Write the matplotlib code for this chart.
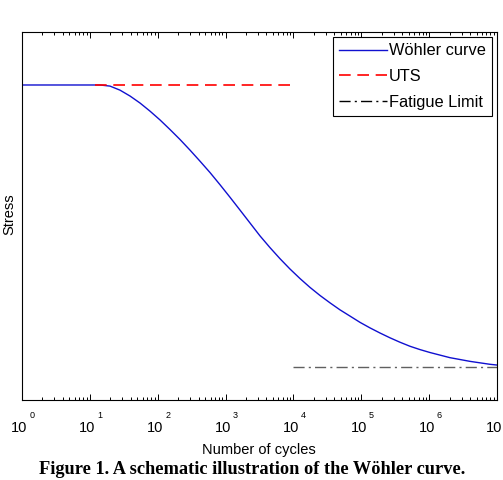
import matplotlib
matplotlib.use("Agg")
import matplotlib.pyplot as plt
import matplotlib.transforms as mtransforms
from matplotlib.ticker import LogLocator, NullFormatter, FixedLocator
import numpy as np

# ---- data ----
# log10 of number of cycles, and normalised stress of the Wöhler curve
log10_cycles = [0.000, 1.149, 1.297, 1.444, 1.592, 1.739, 1.886, 2.034, 2.181,
                2.328, 2.476, 2.623, 2.771, 2.918, 3.065, 3.213, 3.360, 3.507,
                3.655, 3.802, 3.949, 4.097, 4.244, 4.392, 4.539, 4.686, 4.834,
                4.981, 5.128, 5.276, 5.423, 5.570, 5.718, 5.865, 6.013, 6.160,
                6.307, 6.455, 6.602, 6.749, 6.897, 7.000]
stress = [0.856, 0.856, 0.853, 0.842, 0.826, 0.807, 0.785, 0.761, 0.735, 0.708,
          0.679, 0.649, 0.618, 0.585, 0.551, 0.516, 0.481, 0.446, 0.414, 0.384,
          0.356, 0.330, 0.306, 0.284, 0.264, 0.245, 0.228, 0.211, 0.196, 0.182,
          0.169, 0.157, 0.146, 0.137, 0.129, 0.122, 0.115, 0.110, 0.105, 0.101,
          0.097, 0.095]
uts_cycles = [12, 10000]
uts_value = 0.856
fatigue_cycles = [10000, 10000000]
fatigue_value = 0.0905
tick_exponents = [0, 1, 2, 3, 4, 5, 6, 7]
labels = ["Wöhler curve", "UTS", "Fatigue Limit"]

cycles = 10.0 ** np.array(log10_cycles)

plt.rcParams['font.family'] = ['Liberation Sans', 'DejaVu Sans']

W, H = 503, 480
fig = plt.figure(figsize=(W / 100, H / 100), dpi=100)
ax = fig.add_axes([22 / W, (H - 400) / H, 475 / W, 368 / H])

ax.plot(cycles, stress, color='#1010d0', lw=1.0, label=labels[0])
ax.plot(uts_cycles, [uts_value] * 2, color='#ff0000', lw=1.2,
        dashes=(7, 4), label=labels[1])
ax.plot(fatigue_cycles, [fatigue_value] * 2, color='#606060', lw=1.0,
        dashes=(8, 3, 1.5, 3), label=labels[2])

ax.set_xscale('log')
ax.set_xlim(1, 1e7)
ax.set_ylim(0, 1)
ax.set_yticks([])

ax.xaxis.set_major_locator(FixedLocator([10.0 ** e for e in tick_exponents]))
ax.xaxis.set_minor_locator(LogLocator(base=10, subs=range(2, 10), numticks=20))
ax.xaxis.set_minor_formatter(NullFormatter())
ax.tick_params(axis='x', which='both', direction='in', top=True, bottom=True,
               color='black', width=0.7)
ax.tick_params(axis='x', which='major', length=4, labelbottom=False)
ax.tick_params(axis='x', which='minor', length=2)

for s in ax.spines.values():
    s.set_linewidth(0.8)
    s.set_color('black')

# tick labels in "10 with raised exponent" style
trans = mtransforms.blended_transform_factory(ax.transData, ax.transAxes)
for e in tick_exponents:
    x = 10.0 ** e
    t1 = mtransforms.offset_copy(trans, fig=fig, x=-2.5, y=-28, units='dots')
    ax.text(x, 0, "10", transform=t1, ha='center', va='center',
            fontsize=10.5, clip_on=False)
    if e < tick_exponents[-1]:  # last exponent falls outside the figure
        t2 = mtransforms.offset_copy(trans, fig=fig, x=10, y=-16, units='dots')
        ax.text(x, 0, str(e), transform=t2, ha='center', va='center',
                fontsize=6.5, clip_on=False)

fig.text(259 / W, 1 - 450 / H, "Number of cycles", ha='center', va='center',
         fontsize=10.5)
fig.text(9 / W, 1 - 214 / H, "Stress", ha='center', va='center',
         rotation=90, fontsize=10.5)
fig.text(252 / W, 1 - 470 / H,
         "Figure 1. A schematic illustration of the Wöhler curve.",
         ha='center', va='center', fontsize=13.2, fontweight='bold',
         family=['Liberation Serif', 'DejaVu Serif'])

leg = ax.legend(loc='upper right', fontsize=11.8, handlelength=2.9,
                handletextpad=0.1, labelspacing=0.65, borderaxespad=0.3,
                fancybox=False, framealpha=1, edgecolor='black',
                borderpad=0.4)
leg.get_frame().set_linewidth(0.8)
leg.get_lines()[2].set_color('black')

fig.savefig("out.png", dpi=100)
